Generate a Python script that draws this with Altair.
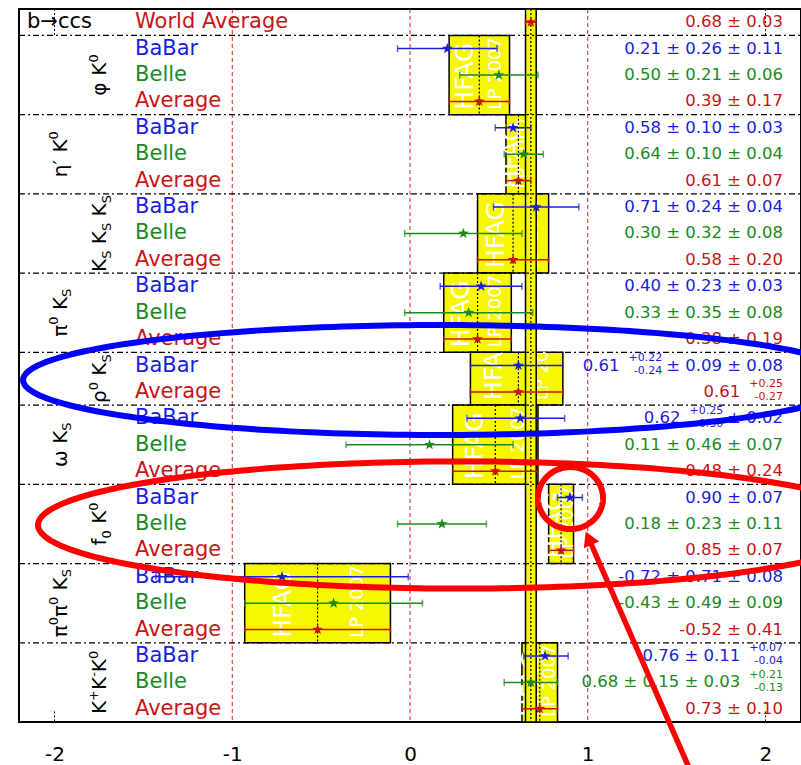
import numpy as np
import pandas as pd
import altair as alt

# ---------------------------------------------------------------------------
# sin(2beta_eff) measurements for b -> c c-bar s penguin modes (HFAG, LP 2007)
# ---------------------------------------------------------------------------
ROW_EXPT = ["World Average",
            "BaBar", "Belle", "Average",      # phi K0
            "BaBar", "Belle", "Average",      # eta' K0
            "BaBar", "Belle", "Average",      # Ks Ks Ks
            "BaBar", "Belle", "Average",      # pi0 Ks
            "BaBar", "Average",               # rho0 Ks
            "BaBar", "Belle", "Average",      # omega Ks
            "BaBar", "Belle", "Average",      # f0 K0
            "BaBar", "Belle", "Average",      # pi0 pi0 Ks
            "BaBar", "Belle", "Average"]      # K+ K- K0
ROW_VALUE = [0.68,
             0.21, 0.50, 0.39,
             0.58, 0.64, 0.61,
             0.71, 0.30, 0.58,
             0.40, 0.33, 0.38,
             0.61, 0.61,
             0.62, 0.11, 0.48,
             0.90, 0.18, 0.85,
             -0.72, -0.43, -0.52,
             0.76, 0.68, 0.73]
# total uncertainties (upper / lower)
ERR_PLUS = [0.03,
            0.28, 0.22, 0.17,
            0.10, 0.11, 0.07,
            0.24, 0.33, 0.20,
            0.23, 0.36, 0.19,
            0.25, 0.25,
            0.25, 0.47, 0.24,
            0.07, 0.25, 0.07,
            0.71, 0.50, 0.41,
            0.13, 0.15, 0.10]
ERR_MINUS = [0.03,
             0.28, 0.22, 0.17,
             0.10, 0.11, 0.07,
             0.24, 0.33, 0.20,
             0.23, 0.36, 0.19,
             0.27, 0.27,
             0.30, 0.47, 0.24,
             0.07, 0.25, 0.07,
             0.71, 0.50, 0.41,
             0.12, 0.15, 0.10]
# printed results: head [sup/sub stack] tail
VALUE_HEAD = ["0.68 ± 0.03",
              "0.21 ± 0.26 ± 0.11", "0.50 ± 0.21 ± 0.06", "0.39 ± 0.17",
              "0.58 ± 0.10 ± 0.03", "0.64 ± 0.10 ± 0.04", "0.61 ± 0.07",
              "0.71 ± 0.24 ± 0.04", "0.30 ± 0.32 ± 0.08", "0.58 ± 0.20",
              "0.40 ± 0.23 ± 0.03", "0.33 ± 0.35 ± 0.08", "0.38 ± 0.19",
              "0.61", "0.61",
              "0.62", "0.11 ± 0.46 ± 0.07", "0.48 ± 0.24",
              "0.90 ± 0.07", "0.18 ± 0.23 ± 0.11", "0.85 ± 0.07",
              "-0.72 ± 0.71 ± 0.08", "-0.43 ± 0.49 ± 0.09", "-0.52 ± 0.41",
              "0.76 ± 0.11", "0.68 ± 0.15 ± 0.03", "0.73 ± 0.10"]
VALUE_SUP = [""] * 13 + ["+0.22", "+0.25", "+0.25"] + [""] * 8 + ["+0.07", "+0.21", ""]
VALUE_SUB = [""] * 13 + ["-0.24", "-0.27", "-0.30"] + [""] * 8 + ["-0.04", "-0.13", ""]
VALUE_TAIL = [""] * 13 + ["± 0.09 ± 0.08", "", "± 0.02"] + [""] * 11

GROUP_SIZE = [3, 3, 3, 3, 2, 3, 3, 3, 3]
MODE_LABELS = [
    [("φ", "m"), (" ", "m"), ("K", "m"), ("0", "sup")],
    [("η", "m"), ("′", "m"), (" ", "m"), ("K", "m"), ("0", "sup")],
    [("K", "m"), ("S", "sub"), (" ", "m"), ("K", "m"), ("S", "sub"), (" ", "m"), ("K", "m"), ("S", "sub")],
    [("π", "m"), ("0", "sup"), (" ", "m"), ("K", "m"), ("S", "sub")],
    [("ρ", "m"), ("0", "sup"), (" ", "m"), ("K", "m"), ("S", "sub")],
    [("ω", "m"), (" ", "m"), ("K", "m"), ("S", "sub")],
    [("f", "m"), ("0", "sub"), (" ", "m"), ("K", "m"), ("0", "sup")],
    [("π", "m"), ("0", "sup"), ("π", "m"), ("0", "sup"), (" ", "m"), ("K", "m"), ("S", "sub")],
    [("K", "m"), ("+", "sup"), ("K", "m"), ("-", "sup"), ("K", "m"), ("0", "sup")],
]
X_TICKS = [-2, -1, 0, 1, 2]
REF_LINES = [-1, 0, 1]

# ---------------------------------------------------------------------------
# layout / style
# ---------------------------------------------------------------------------
FONT = "DejaVu Sans"
COLORS = {"World Average": "#c81414", "BaBar": "#1c1ce0", "Belle": "#1b8a1b", "Average": "#c81414"}
YELLOW = "#f7f700"
X_DOMAIN = [-2.2, 2.2]
N_ROWS = len(ROW_EXPT)
PLOT_W, PLOT_H = 782, 713
PX_X = PLOT_W / (X_DOMAIN[1] - X_DOMAIN[0])
PX_Y = PLOT_H / N_ROWS

LABEL_X = -1.547
VALUE_X = 2.099
TITLE_X = -2.155
MODE_X = [-1.71, -1.93, -1.71, -1.93, -1.71, -1.93, -1.71, -1.93, -1.71]

# five-pointed star marker in the unit square
STAR = ("M0,-1L0.235,-0.324L0.951,-0.309L0.38,0.124L0.588,0.809L0,0.4"
        "L-0.588,0.809L-0.38,0.124L-0.951,-0.309L-0.235,-0.324Z")

CHAR_W = {"0": .636, "1": .636, "2": .636, "3": .636, "4": .636, "5": .636, "6": .636,
          "7": .636, "8": .636, "9": .636, ".": .318, " ": .318, "±": .838, "+": .838,
          "-": .361, "K": .656, "S": .635, "φ": .69, "η": .634, "′": .28, "π": .60,
          "ρ": .635, "ω": .837, "f": .352}


def text_width(s, size):
    return size * sum(CHAR_W.get(c, 0.6) for c in s)


xs = alt.Scale(domain=X_DOMAIN, nice=False, zero=False)
ys = alt.Scale(domain=[0, N_ROWS], reverse=True, nice=False, zero=False)
x_axis = alt.Axis(values=X_TICKS, ticks=False, domain=False, grid=False, title=None,
                  labelFont=FONT, labelFontSize=20, labelColor="black", labelPadding=22,
                  labelExpr="datum.value < 0 ? '-' + format(-datum.value, 'd') : format(datum.value, 'd')")


def X(f):
    return alt.X(f, type="quantitative", scale=xs, axis=x_axis)


def Y(f):
    return alt.Y(f, type="quantitative", scale=ys, axis=None)


colour = alt.Color("color:N", scale=None)

# ---------------------------------------------------------------------------
# tables
# ---------------------------------------------------------------------------
rows = pd.DataFrame({"row": np.arange(N_ROWS), "expt": ROW_EXPT, "value": ROW_VALUE,
                     "ep": ERR_PLUS, "em": ERR_MINUS})
rows["yc"] = rows["row"] + 0.5
rows["lo"] = rows["value"] - rows["em"]
rows["hi"] = rows["value"] + rows["ep"]
rows["color"] = rows["expt"].map(COLORS)
rows["lx"] = LABEL_X

group_top = [int(v) for v in 1 + np.concatenate([[0], np.cumsum(GROUP_SIZE)[:-1]])]
groups = []
for g, (top, size) in enumerate(zip(group_top, GROUP_SIZE)):
    avg = rows.iloc[top + size - 1]
    groups.append(dict(top=top, bottom=top + size, avg=float(avg["value"]),
                       lo=float(avg["lo"]), hi=float(avg["hi"])))
groups = pd.DataFrame(groups)

world = rows.iloc[[0]].copy()
world["top"] = 0
world["bottom"] = N_ROWS

# watermark text inside each average box (shortened in the two-row box)
wm = []
for _, gr in groups.iterrows():
    span = gr["hi"] - gr["lo"]
    y0 = gr["bottom"] - 5 / PX_Y
    short = (gr["bottom"] - gr["top"]) < 3
    wm.append(dict(x=gr["lo"] + 0.26 * span, y=y0, text="HFA" if short else "HFAG", kind="big"))
    wm.append(dict(x=gr["lo"] + 0.78 * span, y=y0, text="LP 20" if short else "LP 2007", kind="small"))
wm = pd.DataFrame(wm)

# printed results on the right
V_MAIN, V_SMALL = 16.5, 11
val_main, val_small = [], []
for i in range(N_ROWS):
    yc = i + 0.5
    col = COLORS[ROW_EXPT[i]]
    right = VALUE_X
    if VALUE_SUP[i]:
        if VALUE_TAIL[i]:
            val_main.append(dict(x=right, y=yc, text=VALUE_TAIL[i], color=col))
            right -= (text_width(VALUE_TAIL[i], V_MAIN) + 4) / PX_X
        val_small.append(dict(x=right, y=yc - 7.5 / PX_Y, text=VALUE_SUP[i], color=col))
        val_small.append(dict(x=right, y=yc + 5.5 / PX_Y, text=VALUE_SUB[i], color=col))
        w = max(text_width(VALUE_SUP[i], V_SMALL), text_width(VALUE_SUB[i], V_SMALL))
        right -= (w + 9) / PX_X
    val_main.append(dict(x=right, y=yc, text=VALUE_HEAD[i], color=col))
val_main = pd.DataFrame(val_main)
val_small = pd.DataFrame(val_small)

# rotated decay-mode names, built piece by piece (super/subscripts)
M_MAIN, M_SMALL = 20, 13
mode_main, mode_small = [], []
for g, pieces in enumerate(MODE_LABELS):
    sizes = [M_MAIN if k == "m" else M_SMALL for _, k in pieces]
    total = sum(text_width(t, s) for (t, _), s in zip(pieces, sizes))
    centre = group_top[g] + GROUP_SIZE[g] / 2
    start = centre + total / 2 / PX_Y
    pos = 0.0
    for (t, k), s in zip(pieces, sizes):
        shift = {"m": 0.0, "sup": -8.5, "sub": 4.5}[k]
        if t.strip():
            item = dict(x=MODE_X[g] + shift / PX_X, y=start - pos / PX_Y, text=t)
            (mode_main if k == "m" else mode_small).append(item)
        pos += text_width(t, s)
mode_main = pd.DataFrame(mode_main)
mode_small = pd.DataFrame(mode_small)

separators = pd.DataFrame({"b": group_top, "x0": X_DOMAIN[0], "x1": X_DOMAIN[1]})
vlines = pd.DataFrame({"x": REF_LINES, "top": 0, "bottom": N_ROWS})
edge_ticks = pd.DataFrame({"x": [-2, 2, -2, 2], "top": [0, 0, N_ROWS - 0.4, N_ROWS - 0.4],
                           "bottom": [1, 1, N_ROWS, N_ROWS]})
title = pd.DataFrame({"x": [TITLE_X], "y": [0.5], "text": ["b→ccs"]})

# highlight annotations (ellipses, circle, arrow) in axis units
t = np.linspace(0, 2 * np.pi, 241)


def ellipse(name, cx, cy, ax, ay):
    return pd.DataFrame({"x": cx + ax * np.cos(t), "y": cy + ay * np.sin(t),
                         "i": np.arange(len(t)), "shape": name})


rings = pd.concat([ellipse("blue ring", 0.169, 14.05, 2.346, 2.083),
                   ellipse("red ring", 0.281, 19.54, 2.374, 2.408),
                   ellipse("red circle", 0.903, 18.52, 0.183, 1.174)], ignore_index=True)
rings["color"] = np.where(rings["shape"] == "blue ring", "#0000ff", "#ff0000")
arrow_shaft = pd.DataFrame({"x": [1.5755], "x2": [1.0117], "y": [28.82], "y2": [20.146]})
arrow_head = pd.DataFrame({"x": [1.0049], "y": [20.04]})

# ---------------------------------------------------------------------------
# layers
# ---------------------------------------------------------------------------
layers = []
layers.append(alt.Chart(groups).mark_rect(fill=YELLOW, stroke="black", strokeWidth=1.5)
              .encode(x=X("lo"), x2="hi", y=Y("top"), y2="bottom"))
layers.append(alt.Chart(wm).transform_filter("datum.kind == 'big'")
              .mark_text(angle=270, align="left", baseline="middle", font=FONT, fontSize=25, color="white")
              .encode(x=X("x"), y=Y("y"), text="text:N"))
layers.append(alt.Chart(wm).transform_filter("datum.kind == 'small'")
              .mark_text(angle=270, align="left", baseline="middle", font=FONT, fontSize=18, color="white")
              .encode(x=X("x"), y=Y("y"), text="text:N"))
layers.append(alt.Chart(groups).mark_rule(color="black", strokeDash=[2, 2], strokeWidth=1.2)
              .encode(x=X("avg"), y=Y("top"), y2="bottom"))
layers.append(alt.Chart(world).mark_rect(fill=YELLOW, stroke="black", strokeWidth=1.5)
              .encode(x=X("lo"), x2="hi", y=Y("top"), y2="bottom"))
layers.append(alt.Chart(world).mark_rule(color="black", strokeDash=[2, 2], strokeWidth=1.2)
              .encode(x=X("value"), y=Y("top"), y2="bottom"))
layers.append(alt.Chart(vlines).mark_rule(color="#d42020", strokeDash=[4, 3], strokeWidth=1)
              .encode(x=X("x"), y=Y("top"), y2="bottom"))
layers.append(alt.Chart(edge_ticks).mark_rule(color="black", strokeDash=[2, 2], strokeWidth=1)
              .encode(x=X("x"), y=Y("top"), y2="bottom"))
layers.append(alt.Chart(separators).mark_rule(color="black", strokeDash=[6, 3, 2, 3], strokeWidth=1.2)
              .encode(x=X("x0"), x2="x1", y=Y("b")))
# text
layers.append(alt.Chart(rows).mark_text(align="left", baseline="middle", font=FONT, fontSize=21)
              .encode(x=X("lx"), y=Y("yc"), text="expt:N", color=colour))
layers.append(alt.Chart(val_main).mark_text(align="right", baseline="middle", font=FONT, fontSize=V_MAIN)
              .encode(x=X("x"), y=Y("y"), text="text:N", color=colour))
layers.append(alt.Chart(val_small).mark_text(align="right", baseline="middle", font=FONT, fontSize=V_SMALL)
              .encode(x=X("x"), y=Y("y"), text="text:N", color=colour))
layers.append(alt.Chart(mode_main).mark_text(angle=270, align="left", baseline="alphabetic", font=FONT,
                                             fontSize=M_MAIN, color="black")
              .encode(x=X("x"), y=Y("y"), text="text:N"))
layers.append(alt.Chart(mode_small).mark_text(angle=270, align="left", baseline="alphabetic", font=FONT,
                                              fontSize=M_SMALL, color="black")
              .encode(x=X("x"), y=Y("y"), text="text:N"))
layers.append(alt.Chart(title).mark_text(align="left", baseline="middle", font=FONT, fontSize=21,
                                         color="black")
              .encode(x=X("x"), y=Y("y"), text="text:N"))
# error bars, end caps and central values
layers.append(alt.Chart(rows).mark_rule(strokeWidth=1.5)
              .encode(x=X("lo"), x2="hi", y=Y("yc"), color=colour))
for end in ("lo", "hi"):
    layers.append(alt.Chart(rows).mark_tick(orient="vertical", size=7, thickness=1.5)
                  .encode(x=X(end), y=Y("yc"), color=colour))
layers.append(alt.Chart(rows).mark_point(shape=STAR, filled=True, size=130, opacity=1)
              .encode(x=X("value"), y=Y("yc"), color=colour))
# highlight annotations
layers.append(alt.Chart(rings).mark_line(strokeWidth=6)
              .encode(x=X("x"), y=Y("y"), order="i:Q", detail="shape:N", color=colour))
layers.append(alt.Chart(arrow_shaft).mark_rule(color="#ff0000", strokeWidth=5.5)
              .encode(x=X("x"), x2="x2", y=Y("y"), y2="y2"))
layers.append(alt.Chart(arrow_head).mark_point(shape="triangle-up", filled=True, size=280, angle=336.4,
                                               color="#ff0000", opacity=1)
              .encode(x=X("x"), y=Y("y")))

chart = (alt.layer(*layers)
         .properties(width=PLOT_W, height=PLOT_H, background="white",
                     autosize=alt.AutoSizeParams(type="none"),
                     padding={"left": 19, "top": 9, "right": 0, "bottom": 43})
         .configure_view(stroke="black", strokeWidth=2))

chart.save("out.html", embed_options={"renderer": "svg", "actions": False})
